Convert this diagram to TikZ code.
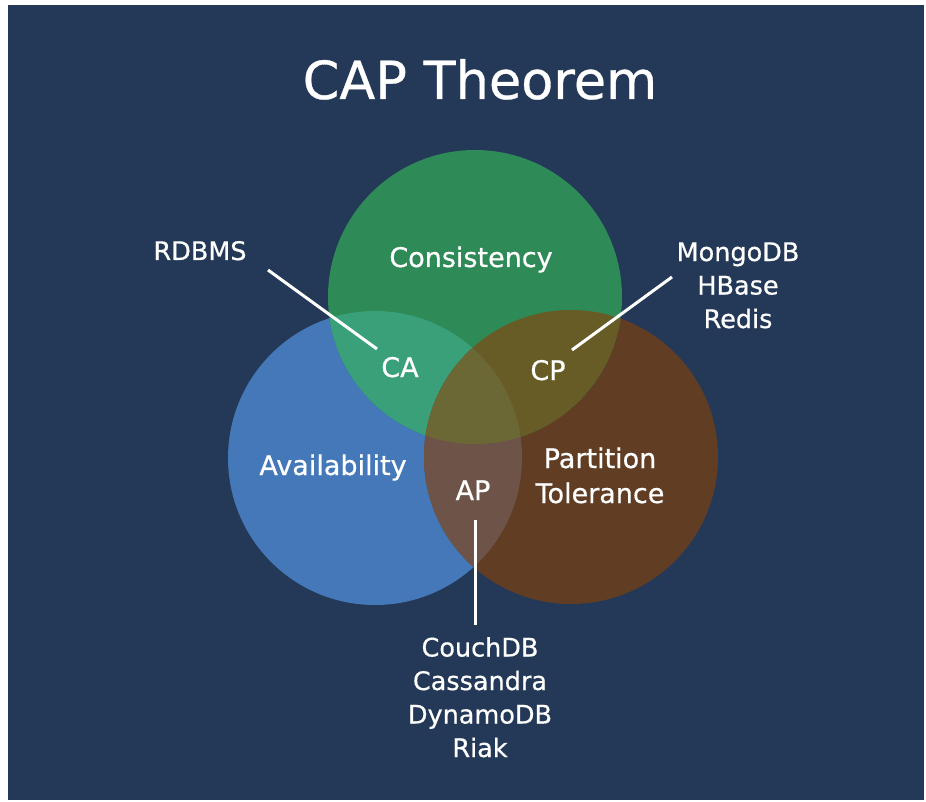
\documentclass[tikz,border=0pt]{standalone}
\usepackage{fontspec}
\setmainfont{DejaVu Sans}[FakeBold=0.6]
\definecolor{navy}{RGB}{36,57,87}
\definecolor{cgreen}{RGB}{46,138,86}
\definecolor{cblue}{RGB}{68,120,184}
\definecolor{cbrown}{RGB}{97,61,36}
\definecolor{regca}{RGB}{57,160,122}
\definecolor{regcp}{RGB}{104,92,38}
\definecolor{regap}{RGB}{110,84,72}
\definecolor{regcen}{RGB}{108,104,54}
\tikzset{
  lbl/.style={text=white, inner sep=0pt, anchor=base, font=\fontsize{25.5}{33.5}\selectfont, align=center},
  big/.style={text=white, inner sep=0pt, anchor=base, font=\fontsize{27}{35}\selectfont, align=center},
  ttl/.style={text=white, inner sep=0pt, anchor=base, font=\fontsize{52.5}{60}\selectfont},
  conn/.style={draw=white, line width=3pt}
}
\begin{document}
\begin{tikzpicture}[x=1pt,y=-1pt]
\useasboundingbox (0,0) rectangle (926,802);
\fill[white] (0,0) rectangle (926,802);
\fill[navy] (8,5) rectangle (924,800);
% circles
\def\R{147}
\fill[cblue] (375,458) circle (\R);
\fill[cbrown] (571,457) circle (\R);
\fill[cgreen] (475,297) circle (\R);
\begin{scope}
  \clip (475,297) circle (\R);
  \fill[regca] (375,458) circle (\R);
  \fill[regcp] (571,457) circle (\R);
\end{scope}
\begin{scope}
  \clip (375,458) circle (\R);
  \fill[regap] (571,457) circle (\R);
\end{scope}
\begin{scope}
  \clip (475,297) circle (\R);
  \clip (375,458) circle (\R);
  \fill[regcen] (571,457) circle (\R);
\end{scope}
% texts
\node[ttl] (title) at (480,99) {CAP Theorem};
\node[big] (cons) at (471,267) {Consistency};
\node[big] (avail) at (333,475) {Availability};
\node[big] (part) at (600,503) {Partition\\Tolerance};
\node[big] (ca) at (400,377) {CA};
\node[big] (cp) at (548,380) {CP};
\node[big] (ap) at (473,500) {AP};
\node[lbl] (rdbms) at (200,260) {RDBMS};
\node[lbl] (cpdb) at (738,328) {MongoDB\\HBase\\Redis};
\node[lbl] (apdb) at (480,757) {CouchDB\\Cassandra\\DynamoDB\\Riak};
% connectors
\coordinate (rdbmsA) at (268,270);
\coordinate (caA) at (377,349);
\coordinate (cpdbA) at (672,277);
\coordinate (cpA) at (572,350);
\coordinate (apA) at (475,520);
\coordinate (apdbA) at (475,625);
\draw[conn] (rdbmsA) -- (caA);
\draw[conn] (cpdbA) -- (cpA);
\draw[conn] (apA) -- (apdbA);
\end{tikzpicture}
\end{document}
